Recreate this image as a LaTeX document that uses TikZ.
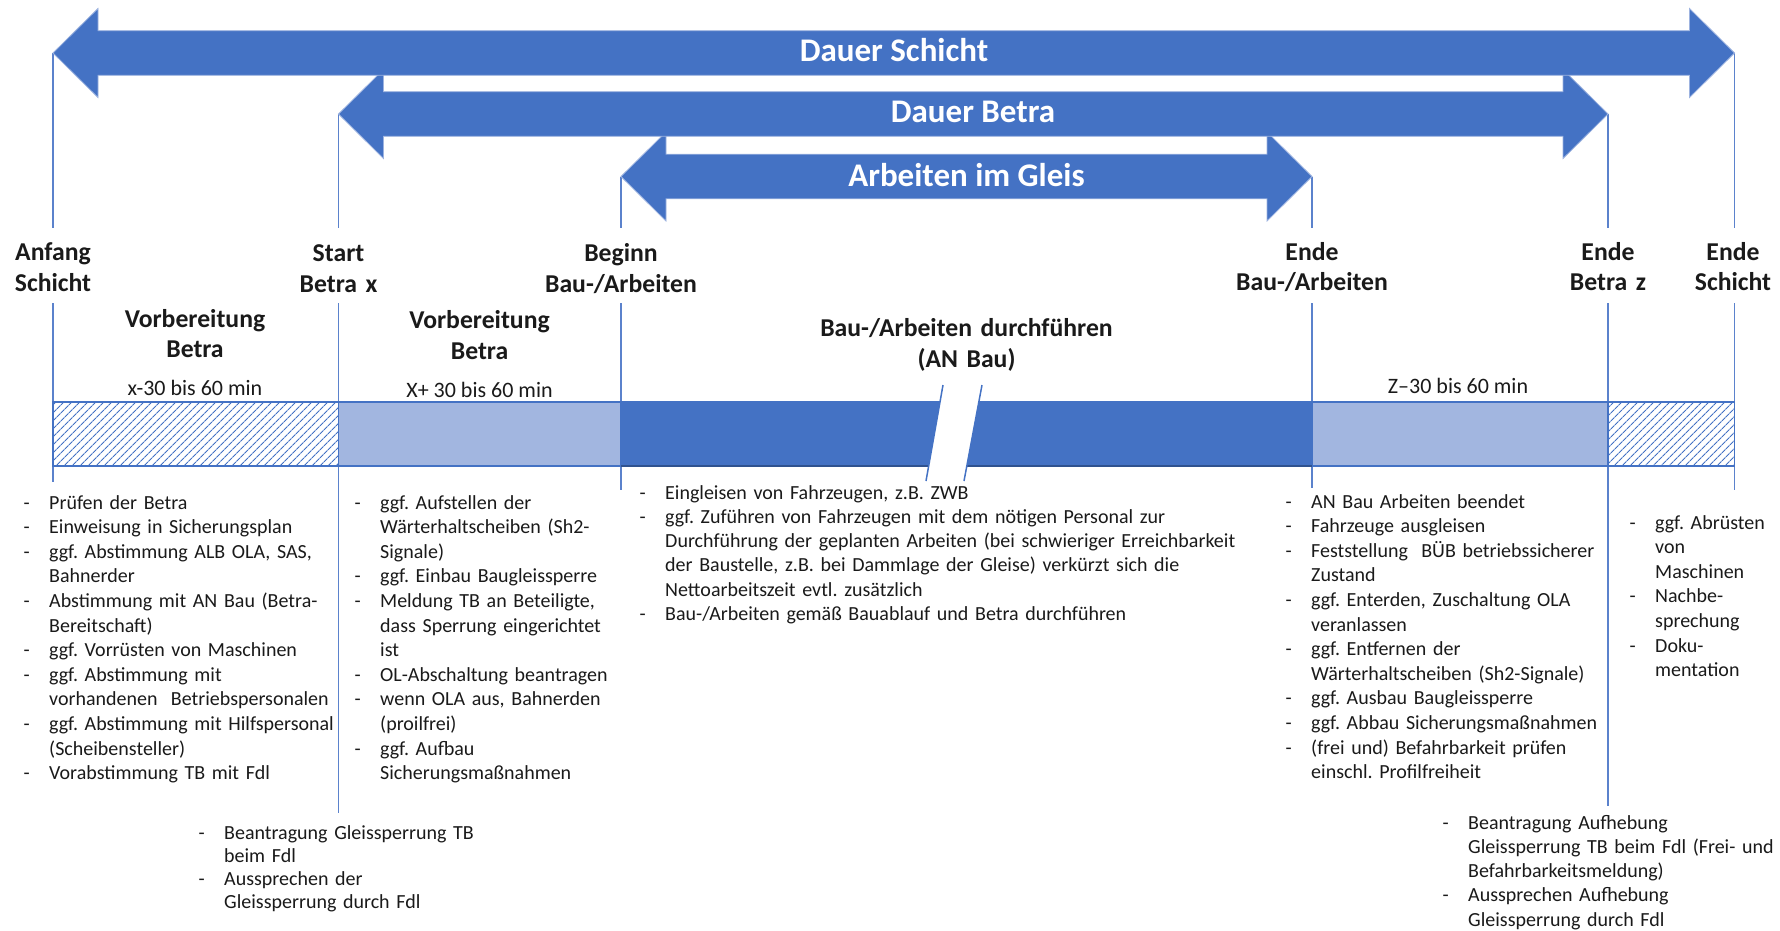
\documentclass[tikz,border=0pt]{standalone}
\usepackage{fontspec}
\setmainfont{Carlito}
\usetikzlibrary{patterns.meta}
\frenchspacing
\definecolor{accent}{HTML}{4472C4}
\definecolor{accentdark}{HTML}{2F528F}
\definecolor{accentlight}{HTML}{A2B6E0}
\definecolor{guide}{HTML}{5B82CC}
\definecolor{arrowedge}{HTML}{9DB3E0}
\definecolor{txt}{HTML}{1A1A1A}
\newlength\blindent
\setlength\blindent{25.5pt}
\newcommand{\blitem}[1]{\noindent\hangindent=\blindent\hangafter=1\makebox[\blindent][l]{-}#1\par}
\newcommand{\blockarrowpath}[4]{% x1, x2, yc, style
  \path[#4] (#1,#3) -- ({#1+45},{#3-44.5}) -- ({#1+45},{#3-22.3}) -- ({#2-45},{#3-22.3})
    -- ({#2-45},{#3-44.5}) -- (#2,#3) -- ({#2-45},{#3+44.5}) -- ({#2-45},{#3+22.3})
    -- ({#1+45},{#3+22.3}) -- ({#1+45},{#3+44.5}) -- cycle;}
\tikzset{
  blockarrow/.style={fill=accent, draw=arrowedge, line width=0.8pt, line join=miter},
  arrowlabel/.style={text=white, font=\bfseries\fontsize{33}{36}\selectfont, inner sep=0pt, anchor=base},
  guideline/.style={draw=guide, line width=1.6pt},
  pointlabel/.style={text=txt, font=\bfseries\fontsize{25.7}{30.5}\selectfont, align=center, inner sep=0pt, anchor=base, text width=220pt},
  titlelabel/.style={text=txt, font=\bfseries\fontsize{25.7}{30.5}\selectfont, align=center, inner sep=0pt, anchor=base, text width=400pt},
  durlabel/.style={text=txt, font=\fontsize{22}{26}\selectfont, inner sep=0pt, anchor=base},
  bulletlist/.style={text=txt, inner sep=0pt, anchor=base west, text width=700pt, align=left, font=\fontsize{20}{#1}\selectfont},
  bulletlist/.default=24.6,
  hatchseg/.style={pattern={Lines[angle=45,distance=5.4pt,line width=1pt]}, pattern color=accent},
  lightseg/.style={fill=accentlight},
  darkseg/.style={fill=accent},
  barframe/.style={draw=accent, line width=1.6pt},
  breakedge/.style={draw=accent, line width=1.5pt},
}
\begin{document}
\begin{tikzpicture}[x=1pt,y=-1pt]
\useasboundingbox (0,0) rectangle (1780,931);
\fill[white] (0,0) rectangle (1780,931);

% coordinates of the time marks
\coordinate (tA) at (53,53);
\coordinate (tS) at (338.5,114);
\coordinate (tB) at (621,176.5);
\coordinate (tE) at (1312,176.5);
\coordinate (tZ) at (1608,114);
\coordinate (tX) at (1734.5,53);
\foreach \n in {A,S,B,E,Z,X}{
  \coordinate (u\n) at (t\n |- 0,228);
  \coordinate (l\n) at (t\n |- 0,303);
}
\coordinate (bA) at (53,482);
\coordinate (bS) at (338.5,813);
\coordinate (bB) at (621,490);
\coordinate (bE) at (1312,488);
\coordinate (bZ) at (1608,806);
\coordinate (bX) at (1734.5,490);

% guide lines
\foreach \n in {A,S,B,E,Z,X}{
  \draw[guideline] (t\n) -- (u\n);
  \draw[guideline] (l\n) -- (b\n);
}

% block arrows (lowest first)
\blockarrowpath{621}{1312}{176.5}{blockarrow}
\blockarrowpath{338.5}{1608}{114}{blockarrow}
\blockarrowpath{53}{1734.5}{53}{blockarrow}
\node[arrowlabel] (lblSchicht) at (894,62) {Dauer Schicht};
\node[arrowlabel] (lblBetra) at (973,122.5) {Dauer Betra};
\node[arrowlabel] (lblGleis) at (966.5,186.5) {Arbeiten im Gleis};

% time point labels
\node[pointlabel] (pA) at (53,260.5) {Anfang\\Schicht};
\node[pointlabel] (pS) at (338.5,261.5) {Start\\Betra x};
\node[pointlabel] (pB) at (621,261.5) {Beginn\\Bau-/Arbeiten};
\node[pointlabel] (pE) at (1312,260) {Ende\\Bau-/Arbeiten};
\node[pointlabel] (pZ) at (1608,260) {Ende\\Betra z};
\node[pointlabel] (pX) at (1733,260) {Ende\\Schicht};

% phase titles
\node[titlelabel] (prepA) at (195,327) {Vorbereitung\\Betra};
\node[titlelabel] (prepB) at (479.5,328.5) {Vorbereitung\\Betra};
\node[titlelabel] (work) at (966.5,336.5) {Bau-/Arbeiten durchführen\\(AN Bau)};
\node[durlabel] (durA) at (195,395) {x-30 bis 60 min};
\node[durlabel] (durB) at (479.5,397) {X+ 30 bis 60 min};
\node[durlabel] (durC) at (1458,393.5) {Z–30 bis 60 min};

% time bar
\path[hatchseg] (53,402) rectangle (338.5,466);
\path[lightseg] (338.5,402) rectangle (621,466);
\path[darkseg] (621,402) rectangle (1312,466);
\path[lightseg] (1312,402) rectangle (1608,466);
\path[hatchseg] (1608,402) rectangle (1734.5,466);
\draw[barframe] (53,402) rectangle (1734.5,466);
\draw[barframe] (338.5,402) -- (338.5,466) (621,402) -- (621,466) (1312,402) -- (1312,466) (1608,402) -- (1608,466);
\draw[draw=accentdark, line width=1.6pt] (621,466) -- (1312,466);

% break mark
\fill[white] (943,385) -- (982,385) -- (964,481) -- (926,481) -- cycle;
\draw[breakedge] (943,385) -- (926,481);
\draw[breakedge] (982,385) -- (964,481);

% bullet lists
\node[bulletlist] (listA) at (23.5,509) {%
\blitem{Prüfen der Betra}
\blitem{Einweisung in Sicherungsplan}
\blitem{ggf. Abstimmung ALB OLA, SAS,\newline Bahnerder}
\blitem{Abstimmung mit AN Bau (Betra-\newline Bereitschaft)}
\blitem{ggf. Vorrüsten von Maschinen}
\blitem{ggf. Abstimmung mit\newline vorhandenen\ \ Betriebspersonalen}
\blitem{ggf. Abstimmung mit Hilfspersonal\newline (Scheibensteller)}
\blitem{Vorabstimmung TB mit Fdl}};

\node[bulletlist] (listS) at (354.5,509) {%
\blitem{ggf. Aufstellen der\newline Wärterhaltscheiben (Sh2-\newline Signale)}
\blitem{ggf. Einbau Baugleissperre}
\blitem{Meldung TB an Beteiligte,\newline dass Sperrung eingerichtet\newline ist}
\blitem{OL-Abschaltung beantragen}
\blitem{wenn OLA aus, Bahnerden\newline (proilfrei)}
\blitem{ggf. Aufbau\newline Sicherungsmaßnahmen}};

\node[bulletlist=24.3] (listB) at (639.5,499) {%
\blitem{Eingleisen von Fahrzeugen, z.B. ZWB}
\blitem{ggf. Zuführen von Fahrzeugen mit dem nötigen Personal zur\newline Durchführung der geplanten Arbeiten (bei schwieriger Erreichbarkeit\newline der Baustelle, z.B. bei Dammlage der Gleise) verkürzt sich die\newline Nettoarbeitszeit evtl. zusätzlich}
\blitem{Bau-/Arbeiten gemäß Bauablauf und Betra durchführen}};

\node[bulletlist] (listE) at (1285.5,508) {%
\blitem{AN Bau Arbeiten beendet}
\blitem{Fahrzeuge ausgleisen}
\blitem{Feststellung\ \ BÜB betriebssicherer\newline Zustand}
\blitem{ggf. Enterden, Zuschaltung OLA\newline veranlassen}
\blitem{ggf. Entfernen der\newline Wärterhaltscheiben (Sh2-Signale)}
\blitem{ggf. Ausbau Baugleissperre}
\blitem{ggf. Abbau Sicherungsmaßnahmen}
\blitem{(frei und) Befahrbarkeit prüfen\newline einschl. Profilfreiheit}};

\node[bulletlist] (listZ) at (1629.5,529) {%
\blitem{ggf. Abrüsten\newline von\newline Maschinen}
\blitem{Nachbe-\newline sprechung}
\blitem{Doku-\newline mentation}};

\node[bulletlist=23.3] (listS2) at (198.5,839) {%
\blitem{Beantragung Gleissperrung TB\newline beim Fdl}
\blitem{Aussprechen der\newline Gleissperrung durch Fdl}};

\node[bulletlist=24.3] (listZ2) at (1442.5,829) {%
\blitem{Beantragung Aufhebung\newline Gleissperrung TB beim Fdl (Frei- und\newline Befahrbarkeitsmeldung)}
\blitem{Aussprechen Aufhebung\newline Gleissperrung durch Fdl}};
\end{tikzpicture}
\end{document}
